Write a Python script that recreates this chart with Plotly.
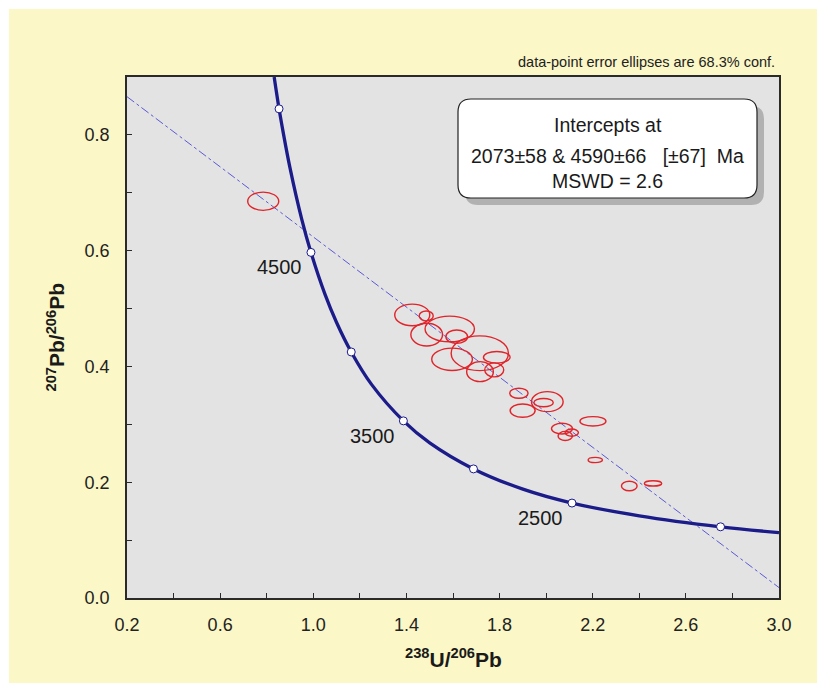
import plotly.graph_objects as go

# ---------------- data ----------------
# Concordia curve (Tera-Wasserburg)
conc_x = [0.832, 0.853, 0.870, 0.900, 0.950, 0.990, 1.050, 1.100, 1.163, 1.250,
          1.387, 1.500, 1.688, 1.900, 2.111, 2.400, 2.749, 3.000]
conc_y = [0.900, 0.845, 0.806, 0.743, 0.655, 0.597, 0.525, 0.476, 0.425, 0.369,
          0.306, 0.268, 0.223, 0.188, 0.164, 0.142, 0.123, 0.113]

# Age markers on the concordia (Ma)
age_ma = [2000, 2500, 3000, 3500, 4000, 4500, 5000]
age_x = [2.749, 2.111, 1.688, 1.387, 1.163, 0.990, 0.853]
age_y = [0.123, 0.164, 0.223, 0.306, 0.425, 0.597, 0.845]
age_labelled = [2500, 3500, 4500]

# Discordia (regression line) end points at the plot edges
disc_x = [0.2, 3.0]
disc_y = [0.866, 0.018]

# Data-point error ellipses: centre x, centre y, half-width x, half-height y
ell_x = [0.785, 1.425, 1.485, 1.586, 1.487, 1.616, 1.715, 1.596, 1.788, 1.716,
         1.777, 1.883, 2.005, 1.989, 1.899, 2.201, 2.068, 2.082, 2.110, 2.211,
         2.357, 2.459]
ell_y = [0.6854, 0.489, 0.4873, 0.4648, 0.455, 0.4515, 0.4228, 0.4124, 0.4158, 0.391,
         0.394, 0.3537, 0.3392, 0.3375, 0.3237, 0.3053, 0.2926, 0.280, 0.2857, 0.2384,
         0.1935, 0.198]
ell_rx = [0.0666, 0.0752, 0.030, 0.106, 0.068, 0.0465, 0.123, 0.0873, 0.0573, 0.0573,
          0.0408, 0.0394, 0.068, 0.0415, 0.0537, 0.0558, 0.045, 0.0308, 0.0286, 0.0308,
          0.0336, 0.0372]
ell_ry = [0.0158, 0.0187, 0.0086, 0.0222, 0.0196, 0.0115, 0.030, 0.0193, 0.0101, 0.0173,
          0.0121, 0.0086, 0.0173, 0.0072, 0.0115, 0.0081, 0.0092, 0.0078, 0.0063, 0.0046,
          0.0083, 0.0046]

x_ticks = [0.2, 0.6, 1.0, 1.4, 1.8, 2.2, 2.6, 3.0]
y_ticks = [0.0, 0.2, 0.4, 0.6, 0.8]

note_text = "data-point error ellipses are 68.3% conf."
box_lines = ["Intercepts at",
             "2073±58 &amp; 4590±66\u00a0\u00a0\u00a0[±67]\u00a0\u00a0Ma",
             "MSWD = 2.6"]

# ---------------- layout geometry ----------------
W, H = 817, 683
L, R, T, B = 127, 779, 77, 598          # plot area in pixels
PW, PH = R - L, B - T


def px(xp):
    return (xp - L) / PW


def py(yp):
    return (B - yp) / PH


FONT = "Liberation Sans, Arial, sans-serif"
YELLOW = "#FBF7C6"
NAVY = "#1B1B8A"

fig = go.Figure()

# discordia
fig.add_trace(go.Scatter(x=disc_x, y=disc_y, mode="lines",
                         line=dict(color="#5A5AD6", width=1, dash="dashdot"),
                         hoverinfo="skip", showlegend=False))
# concordia
fig.add_trace(go.Scatter(x=conc_x, y=conc_y, mode="lines",
                         line=dict(color=NAVY, width=3.3, shape="spline", smoothing=1.0),
                         hoverinfo="skip", showlegend=False))
# age markers
fig.add_trace(go.Scatter(x=age_x, y=age_y, mode="markers",
                         marker=dict(size=8, color="white",
                                     line=dict(color=NAVY, width=1)),
                         hoverinfo="skip", showlegend=False, cliponaxis=False))

shapes = []
# ellipses
for cx, cy, rx, ry in zip(ell_x, ell_y, ell_rx, ell_ry):
    shapes.append(dict(type="circle", xref="x", yref="y",
                       x0=cx - rx, x1=cx + rx, y0=cy - ry, y1=cy + ry,
                       line=dict(color="#E0242A", width=1.4), layer="above"))


def rounded(x0, y0, x1, y1, r):
    # pixel coords -> paper path with rounded corners
    def P(a, b):
        return f"{px(a):.5f},{py(b):.5f}"
    return (f"M {P(x0 + r, y0)} L {P(x1 - r, y0)} Q {P(x1, y0)} {P(x1, y0 + r)} "
            f"L {P(x1, y1 - r)} Q {P(x1, y1)} {P(x1 - r, y1)} "
            f"L {P(x0 + r, y1)} Q {P(x0, y1)} {P(x0, y1 - r)} "
            f"L {P(x0, y0 + r)} Q {P(x0, y0)} {P(x0 + r, y0)} Z")


bx0, by0, bx1, by1 = 458, 99, 757, 198
shapes.append(dict(type="path", xref="paper", yref="paper",
                   path=rounded(bx0 + 7, by0 + 7, bx1 + 7, by1 + 7, 13),
                   fillcolor="#A8A8A8", line=dict(width=0), opacity=0.85))
shapes.append(dict(type="path", xref="paper", yref="paper",
                   path=rounded(bx0, by0, bx1, by1, 13),
                   fillcolor="white", line=dict(color="#222222", width=1.2)))

# white bands at the left and top edge of the picture
shapes.append(dict(type="rect", xref="paper", yref="paper",
                   x0=px(-2), x1=px(9), y0=py(H + 2), y1=py(-2),
                   fillcolor="white", line=dict(width=0)))
shapes.append(dict(type="rect", xref="paper", yref="paper",
                   x0=px(-2), x1=px(W + 2), y0=py(9), y1=py(-2),
                   fillcolor="white", line=dict(width=0)))

annotations = []
for a, xv, yv in zip(age_ma, age_x, age_y):
    if a in age_labelled:
        annotations.append(dict(x=xv, y=yv, xref="x", yref="y", text=str(a),
                                showarrow=False, xanchor="center", yanchor="middle",
                                xshift=-31, yshift=-15,
                                font=dict(family=FONT, size=20, color="#1a1a1a")))

annotations.append(dict(x=px(777), y=py(62), xref="paper", yref="paper",
                        text=note_text, showarrow=False, xanchor="right",
                        yanchor="middle", font=dict(family=FONT, size=14.5, color="#222")))

for txt, yp in zip(box_lines, [125, 156, 181]):
    annotations.append(dict(x=px((bx0 + bx1) / 2), y=py(yp), xref="paper", yref="paper",
                            text=txt, showarrow=False, xanchor="center", yanchor="middle",
                            font=dict(family=FONT, size=19.5, color="#1a1a1a")))

annotations.append(dict(x=0.5, y=py(658), xref="paper", yref="paper",
                        text="<b><sup>238</sup>U/<sup>206</sup>Pb</b>", showarrow=False,
                        xanchor="center", yanchor="middle",
                        font=dict(family=FONT, size=21, color="#1a1a1a")))
annotations.append(dict(x=px(55), y=0.5, xref="paper", yref="paper",
                        text="<b><sup>207</sup>Pb/<sup>206</sup>Pb</b>", showarrow=False,
                        xanchor="center", yanchor="middle", textangle=-90,
                        font=dict(family=FONT, size=21, color="#1a1a1a")))

axis_common = dict(showgrid=False, zeroline=False, showline=True, mirror=True,
                   linecolor="#2a2a2a", linewidth=1.5, ticks="inside", ticklen=5,
                   tickcolor="#2a2a2a", tickwidth=1.2,
                   tickfont=dict(family=FONT, size=18, color="#222"))

fig.update_layout(
    width=W, height=H,
    margin=dict(l=L, r=W - R, t=T, b=H - B, autoexpand=False),
    paper_bgcolor=YELLOW, plot_bgcolor="#E3E3E3",
    xaxis=dict(range=[0.2, 3.0], tickvals=x_ticks, ticktext=[f"{v:.1f}" for v in x_ticks],
               minor=dict(dtick=0.2, tick0=0.2, ticks="inside", ticklen=5,
                          tickcolor="#2a2a2a", tickwidth=1.2, showgrid=False),
               ticklabelstandoff=10, **axis_common),
    yaxis=dict(range=[0.0, 0.9], tickvals=y_ticks, ticktext=[f"{v:.1f}" for v in y_ticks],
               minor=dict(dtick=0.1, tick0=0.0, ticks="inside", ticklen=5,
                          tickcolor="#2a2a2a", tickwidth=1.2, showgrid=False),
               ticklabelstandoff=12, **axis_common),
    shapes=shapes, annotations=annotations, showlegend=False,
)

fig.write_html("out.html")
